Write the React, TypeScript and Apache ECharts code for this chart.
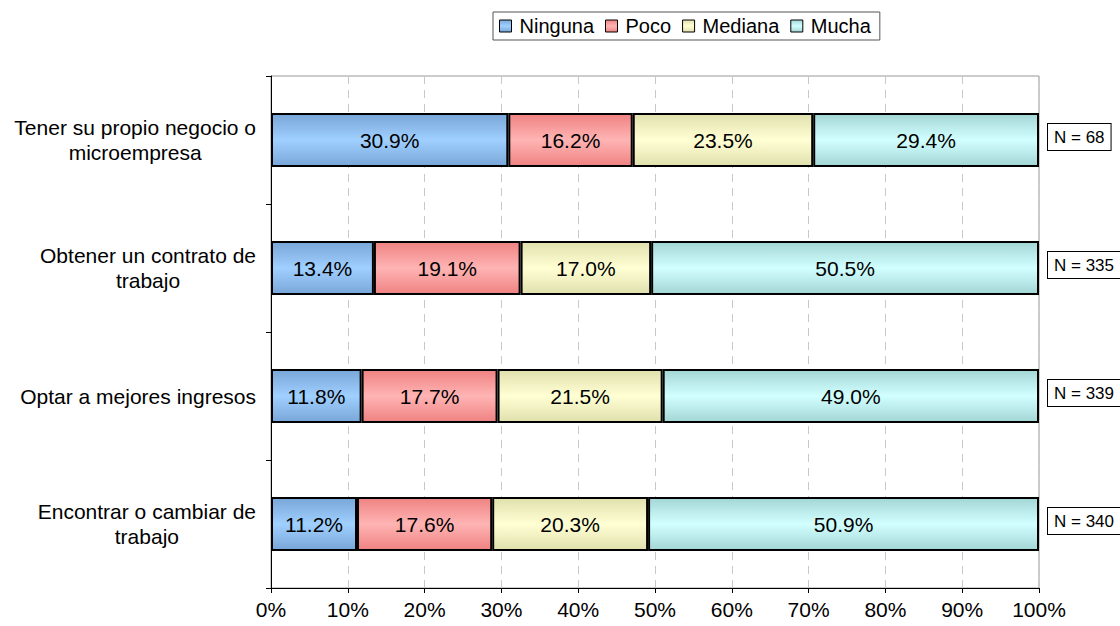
import React, { useEffect, useRef } from "react";
import * as echarts from "echarts";

const categories = [
  "Tener su propio negocio o\nmicroempresa",
  "Obtener un contrato de\ntrabajo",
  "Optar a mejores ingresos",
  "Encontrar o cambiar de\ntrabajo",
];
const seriesNames = ["Ninguna", "Poco", "Mediana", "Mucha"];
const ninguna = [30.9, 13.4, 11.8, 11.2];
const poco = [16.2, 19.1, 17.7, 17.6];
const mediana = [23.5, 17.0, 21.5, 20.3];
const mucha = [29.4, 50.5, 49.0, 50.9];
const nCounts = [68, 335, 339, 340];
const xTicks = [0, 10, 20, 30, 40, 50, 60, 70, 80, 90, 100];

const FONT = "'Liberation Sans', Arial, sans-serif";

const palette = [
  { edge: "#78a6d8", mid: "#a0d0ff" },
  { edge: "#ef8282", mid: "#ffb4b4" },
  { edge: "#e0e0ae", mid: "#ffffd4" },
  { edge: "#a4d6d6", mid: "#d2ffff" },
];

function grad(p: { edge: string; mid: string }) {
  return {
    type: "linear",
    x: 0,
    y: 0,
    x2: 0,
    y2: 1,
    colorStops: [
      { offset: 0, color: p.edge },
      { offset: 0.5, color: p.mid },
      { offset: 1, color: p.edge },
    ],
  };
}

export default function App() {
  const ref = useRef<HTMLDivElement>(null);
  useEffect(() => {
    document.body.style.margin = "0";
    if (!ref.current) return;
    const chart = echarts.init(ref.current, null, { renderer: "svg" });
    const values = [ninguna, poco, mediana, mucha];
    const series: any[] = seriesNames.map((name, i) => ({
      name,
      type: "bar",
      stack: "total",
      barWidth: 54,
      data: values[i],
      itemStyle: {
        color: grad(palette[i]),
        borderColor: "#000",
        borderWidth: 2,
      },
      label: {
        show: true,
        position: "inside",
        color: "#000",
        fontSize: 21,
        fontFamily: FONT,
        formatter: (p: any) => p.value.toFixed(1) + "%",
      },
    }));
    series.push({
      name: "N",
      type: "bar",
      stack: "total",
      barWidth: 54,
      data: nCounts.map(() => 0),
      itemStyle: { color: "transparent", borderWidth: 0 },
      label: {
        show: true,
        position: "right",
        distance: 9,
        offset: [0, -3],
        color: "#000",
        fontSize: 17,
        fontFamily: FONT,
        backgroundColor: "#fff",
        borderColor: "#000",
        borderWidth: 1,
        padding: [5, 6, 4, 6],
        formatter: (p: any) => "N = " + nCounts[p.dataIndex],
      },
      silent: true,
    });
    chart.setOption({
      animation: false,
      backgroundColor: "#fff",
      textStyle: { fontFamily: FONT },
      legend: {
        data: seriesNames,
        left: 493,
        top: 12,
        orient: "horizontal",
        borderColor: "#555",
        borderWidth: 1,
        padding: [4, 9, 4, 6],
        itemGap: 11,
        itemWidth: 12,
        itemHeight: 12,
        icon: "rect",
        itemStyle: { borderColor: "#000", borderWidth: 1 },
        textStyle: {
          fontSize: 20,
          color: "#000",
          fontFamily: FONT,
          padding: [0, 0, 0, 3],
        },
      },
      grid: {
        left: 271,
        right: 81,
        top: 76,
        bottom: 38,
        show: true,
        borderColor: "#999",
        borderWidth: 1,
      },
      xAxis: {
        type: "value",
        min: 0,
        max: 100,
        interval: 10,
        axisLine: { show: true, lineStyle: { color: "#000", width: 1 } },
        axisTick: { show: true, length: 5, lineStyle: { color: "#000" } },
        splitLine: {
          show: true,
          lineStyle: { color: "#c8c8c8", type: [8, 6], width: 1 },
        },
        axisLabel: {
          fontSize: 21,
          color: "#000",
          fontFamily: FONT,
          margin: 11,
          formatter: (v: number) => (xTicks.includes(v) ? v + "%" : ""),
        },
      },
      yAxis: {
        type: "category",
        data: categories,
        inverse: true,
        axisLine: { show: true, lineStyle: { color: "#000", width: 1 } },
        axisTick: { show: true, length: 5, lineStyle: { color: "#000" } },
        splitLine: { show: false },
        axisLabel: {
          margin: 15,
          color: "#000",
          fontSize: 21,
          fontFamily: FONT,
          lineHeight: 25,
          formatter: (v: string) =>
            v
              .split("\n")
              .map((l) => "{c|" + l + "}")
              .join("\n"),
          rich: {
            c: {
              align: "center",
              fontSize: 21,
              lineHeight: 25,
              color: "#000",
              fontFamily: FONT,
            },
          },
        },
      },
      series,
    });
    return () => chart.dispose();
  }, []);
  return <div ref={ref} style={{ width: 1120, height: 626 }} />;
}
